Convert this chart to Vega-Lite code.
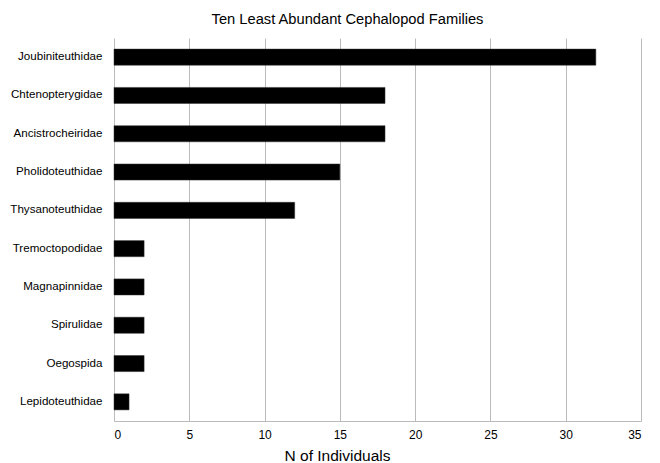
{
  "$schema": "https://vega.github.io/schema/vega-lite/v6.json",
  "width": 527,
  "height": 383,
  "autosize": "none",
  "padding": {"left": 114, "top": 38, "right": 19, "bottom": 42},
  "background": "white",
  "title": {
    "text": "Ten Least Abundant Cephalopod Families",
    "font": "Liberation Sans",
    "fontSize": 14.7,
    "fontWeight": "normal",
    "color": "#000",
    "anchor": "middle",
    "dx": -30,
    "offset": 11
  },
  "data": {
    "values": [
      {"family": "Joubiniteuthidae", "n": 32},
      {"family": "Chtenopterygidae", "n": 18},
      {"family": "Ancistrocheiridae", "n": 18},
      {"family": "Pholidoteuthidae", "n": 15},
      {"family": "Thysanoteuthidae", "n": 12},
      {"family": "Tremoctopodidae", "n": 2},
      {"family": "Magnapinnidae", "n": 2},
      {"family": "Spirulidae", "n": 2},
      {"family": "Oegospida", "n": 2},
      {"family": "Lepidoteuthidae", "n": 1}
    ]
  },
  "mark": {"type": "bar", "color": "black", "stroke": "#333", "strokeWidth": 0.5},
  "encoding": {
    "y": {
      "field": "family",
      "type": "nominal",
      "sort": null,
      "scale": {"paddingInner": 0.58, "paddingOuter": 0.29},
      "axis": {
        "title": null,
        "ticks": false,
        "domain": false,
        "labelPadding": 12,
        "labelFont": "Liberation Sans",
        "labelFontSize": 11.6,
        "labelColor": "#000"
      }
    },
    "x": {
      "field": "n",
      "type": "quantitative",
      "scale": {"domain": [0, 35], "nice": false},
      "axis": {
        "title": "N of Individuals",
        "titleFont": "Liberation Sans",
        "titleFontSize": 15.5,
        "titleFontWeight": "normal",
        "titleColor": "#000",
        "titlePadding": 8,
        "titleX": 223,
        "values": [0, 5, 10, 15, 20, 25, 30, 35],
        "ticks": false,
        "domainColor": "#bbb",
        "gridColor": "#bbb",
        "labelPadding": 8,
        "labelFont": "Liberation Sans",
        "labelFontSize": 12,
        "labelColor": "#000"
      }
    }
  },
  "config": {"view": {"stroke": null}}
}
